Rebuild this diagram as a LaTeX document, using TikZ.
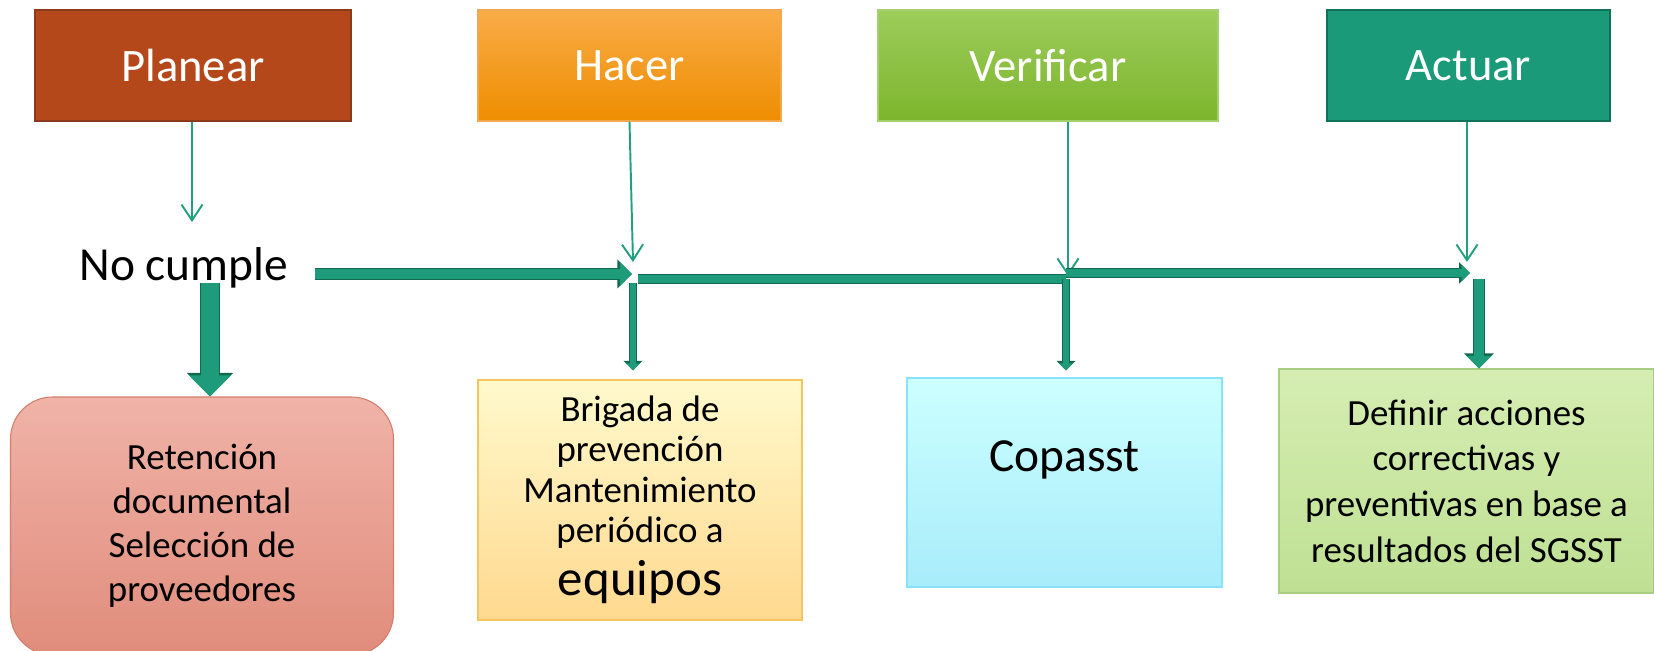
\documentclass[tikz,border=0pt]{standalone}
\usepackage{fontspec}
\setmainfont{Carlito}
\usetikzlibrary{arrows.meta,positioning,calc}

\definecolor{planearred}{HTML}{B5481A}
\definecolor{planearedge}{HTML}{8C3A1C}
\definecolor{hacertop}{HTML}{F9AC48}
\definecolor{hacerbot}{HTML}{EE8D00}
\definecolor{haceredge}{HTML}{F2A850}
\definecolor{veriftop}{HTML}{9DCC5B}
\definecolor{verifbot}{HTML}{7CB52C}
\definecolor{verifedge}{HTML}{A6D070}
\definecolor{actuarteal}{HTML}{1B9A7A}
\definecolor{actuaredge}{HTML}{127259}
\definecolor{retentop}{HTML}{F0B3A8}
\definecolor{retenbot}{HTML}{E08C7B}
\definecolor{retenedge}{HTML}{D47C6A}
\definecolor{brigtop}{HTML}{FFF9CC}
\definecolor{brigbot}{HTML}{FFD98F}
\definecolor{brigedge}{HTML}{F5C560}
\definecolor{copassttop}{HTML}{CCFFFF}
\definecolor{copasstbot}{HTML}{A8ECFA}
\definecolor{copasstedge}{HTML}{88E2F8}
\definecolor{definirtop}{HTML}{D5EDB2}
\definecolor{definirbot}{HTML}{BFE093}
\definecolor{definiredge}{HTML}{A9CE82}
\definecolor{arrowteal}{HTML}{1E9B7A}
\definecolor{arrowdark}{HTML}{12694F}
\definecolor{thinteal}{HTML}{21A07F}

\begin{document}
\begin{tikzpicture}[x=0.2mm,y=-0.2mm,
  topbox/.style={draw, line width=0.6pt, text=white, font=\fontsize{26.5}{30}\selectfont, minimum height=22.2mm, inner sep=0pt},
  lowbox/.style={draw, line width=0.6pt, align=center, inner sep=0pt},
  thinarrow/.style={draw=thinteal, line width=1.1pt, -{Straight Barb[length=9pt,width=12pt]}},
  fatarrow/.style={draw=arrowteal, line width=#1, -{Triangle[length=0pt 1.2,width=0pt 2.3]},
    preaction={draw=arrowdark, line width=#1+1.2pt, -{Triangle[length=0pt 1.2,width=0pt 2.3]}}},
  fatline/.style={draw=arrowteal, line width=#1, preaction={draw=arrowdark, line width=#1+1.2pt}}]
\useasboundingbox (0,0) rectangle (1654,650);

% PHVA boxes
\node[topbox, fill=planearred, draw=planearedge, minimum width=63.2mm] (planear) at (193,65.5) {Planear};
\node[topbox, top color=hacertop, bottom color=hacerbot, draw=haceredge, minimum width=60.6mm] (hacer) at (629.5,65.5) {Hacer};
\node[topbox, top color=veriftop, bottom color=verifbot, draw=verifedge, minimum width=68mm] (verificar) at (1048,65.5) {Verificar};
\node[topbox, fill=actuarteal, draw=actuaredge, minimum width=56.6mm] (actuar) at (1468.5,65.5) {Actuar};

\node[font=\fontsize{27}{30}\selectfont, anchor=base west, inner sep=0pt] (nocumple) at (79,280) {No cumple};

% result boxes
\node[lowbox, rounded corners=8.4mm, top color=retentop, bottom color=retenbot, draw=retenedge,
  minimum width=76.6mm, minimum height=51.6mm, font=\fontsize{21}{25}\selectfont] (retencion) at (202,526)
  {Retención\\documental\\Selección de\\proveedores};
\node[lowbox, top color=brigtop, bottom color=brigbot, draw=brigedge,
  minimum width=64.8mm, minimum height=48mm, font=\fontsize{21}{23}\selectfont] (brigada) at (640,500)
  {Brigada de\\prevención\\Mantenimiento\\periódico a\\[6pt]{\fontsize{29}{32}\selectfont equipos}};
\node[lowbox, top color=copassttop, bottom color=copasstbot, draw=copasstedge,
  minimum width=63mm, minimum height=41.8mm] (copasst) at (1064.5,482.5) {};
\node[font=\fontsize{27}{30}\selectfont, inner sep=0pt] (copasstlbl) at ($(copasst.north)+(0,82)$) {Copasst};
\node[lowbox, top color=definirtop, bottom color=definirbot, draw=definiredge,
  minimum width=75mm, minimum height=44.8mm, font=\fontsize{21}{26}\selectfont] (definir) at (1466.5,481)
  {Definir acciones\\correctivas y\\preventivas en base a\\resultados del SGSST};

% junctions
\coordinate (ptip) at (192,222);
\coordinate (htip) at (633,262);
\coordinate (vtip) at (1068,276);
\coordinate (atip) at (1467,262);
\coordinate (hj) at (632,274);
\coordinate (hl) at (638,279);
\coordinate (hd) at (633,283);
\coordinate (vj) at (1066,279);
\coordinate (vs) at (1066,273);
\coordinate (aj) at (1470,273);
\coordinate (ad) at (1479,279);
\coordinate (pd) at (210,283);

% thin arrows
\draw[thinarrow] (planear.south -| ptip) -- (ptip);
\draw[thinarrow] (hacer.south) -- (htip);
\draw[thinarrow] (verificar.south -| vtip) -- (vtip);
\draw[thinarrow] (actuar.south -| atip) -- (atip);

% thick arrows
\draw[fatarrow=5.7pt] (nocumple.east |- hj) ++(27,0) -- (hj);
\draw[fatline=4pt] (hl) -- (vj);
\draw[fatarrow=4pt] (vs) -- (aj);
\draw[fatarrow=10pt] (pd) -- (pd |- retencion.north);
\draw[fatarrow=3.4pt] (hd) -- ([yshift=1.8mm]hd |- brigada.north);
\draw[fatarrow=3.4pt] (vj) -- ([yshift=1.4mm]vj |- copasst.north);
\draw[fatarrow=6pt] (ad) -- (ad |- definir.north);
\end{tikzpicture}
\end{document}
